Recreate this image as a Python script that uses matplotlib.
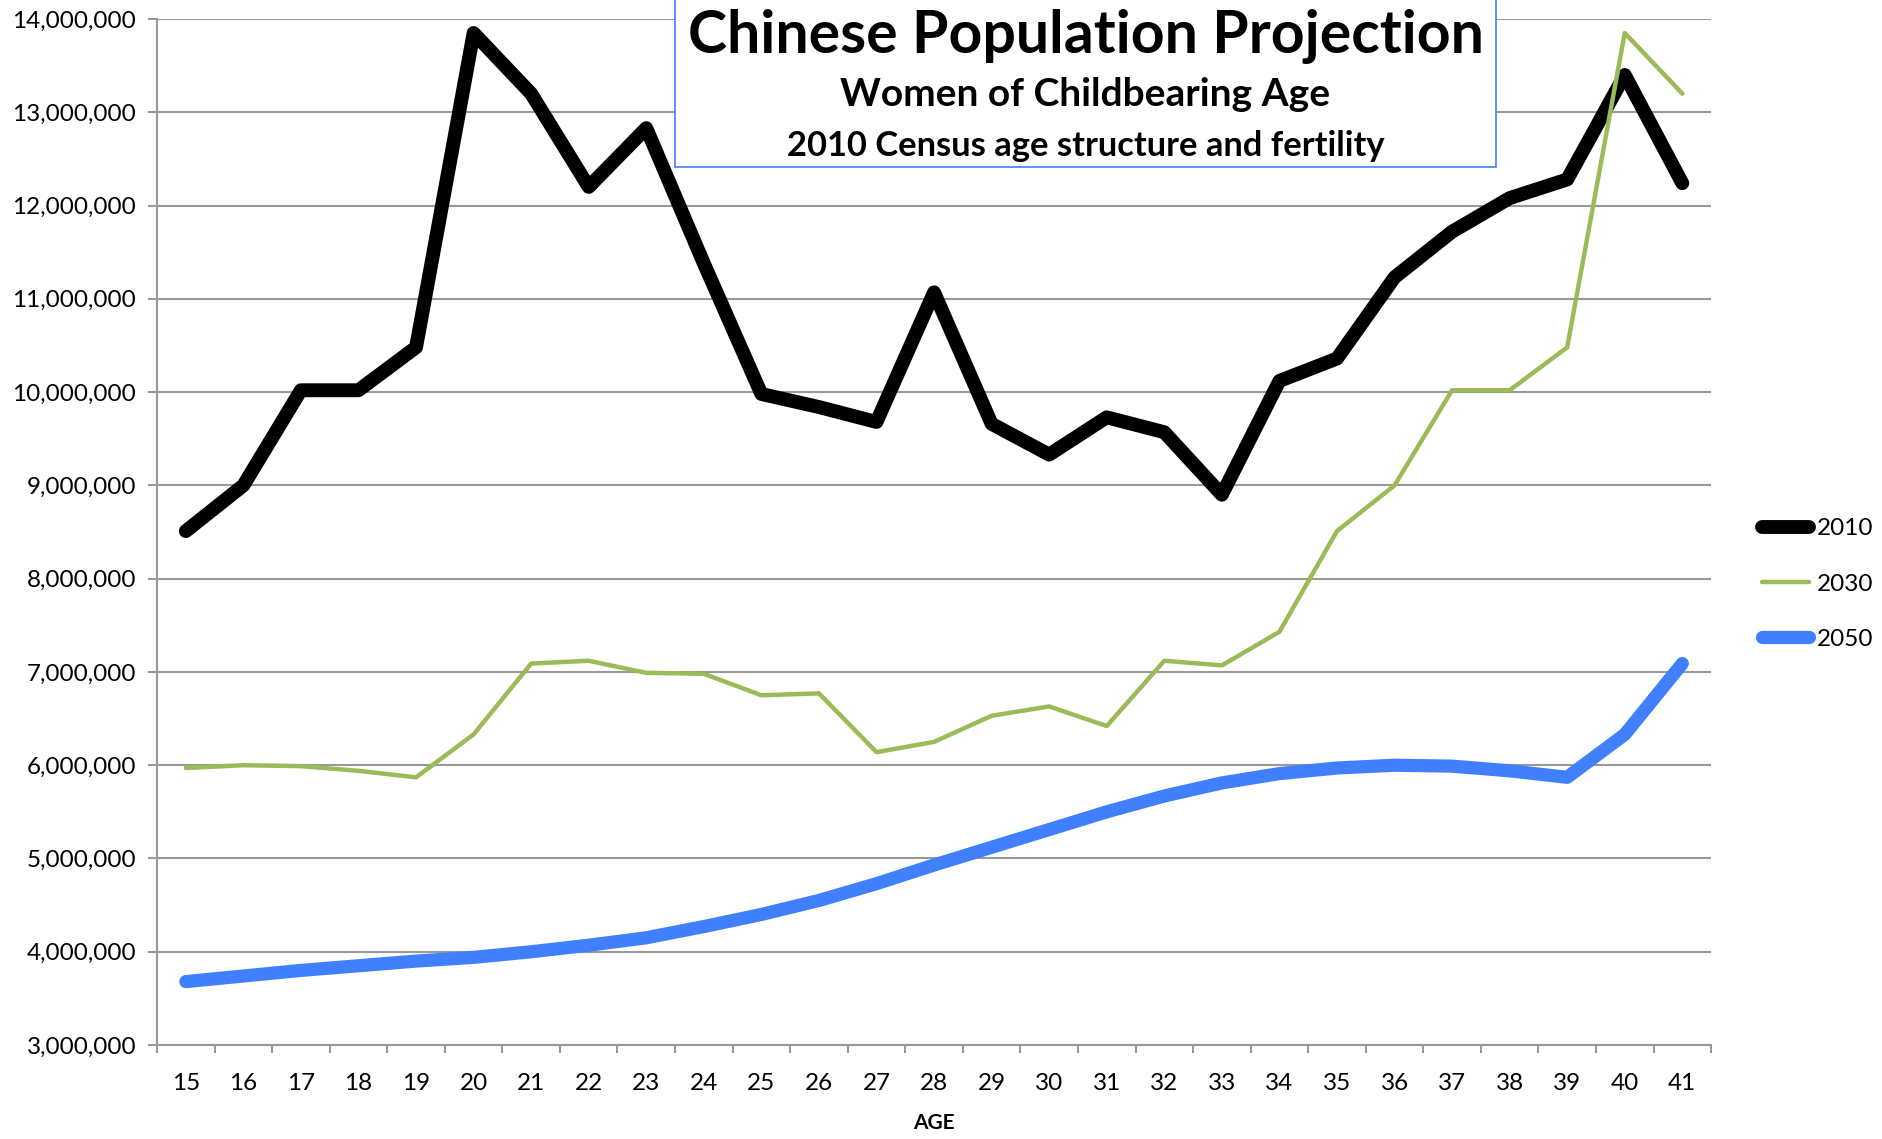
import numpy as np
import matplotlib
matplotlib.use("Agg")
import matplotlib.pyplot as plt
from matplotlib.patches import Rectangle
from matplotlib.ticker import FuncFormatter

plt.rcParams['font.family'] = ['Lato', 'DejaVu Sans']

# Data (millions of women)
ages = list(range(15, 42))
pop_2010 = [8.51, 9.00, 10.02, 10.02, 10.48, 13.85, 13.20, 12.20, 12.83, 11.38,
            9.98, 9.84, 9.68, 11.07, 9.66, 9.33, 9.73, 9.57, 8.90, 10.12,
            10.36, 11.23, 11.72, 12.08, 12.28, 13.40, 12.24]
pop_2030 = [5.97, 6.00, 5.99, 5.94, 5.87, 6.33, 7.09, 7.12, 6.99, 6.98,
            6.75, 6.77, 6.14, 6.25, 6.53, 6.63, 6.42, 7.12, 7.07, 7.43,
            8.51, 9.00, 10.02, 10.02, 10.48, 13.85, 13.20]
pop_2050 = [3.68, 3.74, 3.80, 3.85, 3.90, 3.94, 4.00, 4.07, 4.15, 4.27,
            4.40, 4.55, 4.73, 4.93, 5.12, 5.31, 5.50, 5.67, 5.81, 5.91,
            5.97, 6.00, 5.99, 5.94, 5.87, 6.33, 7.09]
series_labels = ["2010", "2030", "2050"]

grey = "#999999"

fig = plt.figure(figsize=(18.83, 11.39), dpi=100)
ax = fig.add_axes([0.0834, 0.0825, 0.8253, 0.9008])

x = np.arange(len(ages))
ax.plot(x, np.array(pop_2010) * 1e6, color="black", lw=10, label=series_labels[0],
        solid_capstyle="round", solid_joinstyle="round", zorder=3)
ax.plot(x, np.array(pop_2030) * 1e6, color="#9bbb59", lw=3.2, label=series_labels[1],
        solid_capstyle="round", solid_joinstyle="round", zorder=3)
ax.plot(x, np.array(pop_2050) * 1e6, color="#4080ff", lw=9.5, label=series_labels[2],
        solid_capstyle="round", solid_joinstyle="round", zorder=3)

# Axes limits and ticks
ax.set_xlim(-0.5, len(ages) - 0.5)
ax.set_ylim(3e6, 14e6)
ax.set_yticks(np.arange(3e6, 14e6 + 1, 1e6))
ax.yaxis.set_major_formatter(FuncFormatter(lambda v, p: f"{int(v):,}"))
ax.set_xticks(x)
ax.set_xticklabels([str(a) for a in ages])
ax.set_xticks(np.arange(-0.5, len(ages), 1), minor=True)

ax.tick_params(axis="x", which="major", length=0, pad=20, labelsize=17.5)
ax.tick_params(axis="x", which="minor", length=5.5, width=1.5, color=grey, direction="out")
ax.tick_params(axis="y", length=6.5, width=1.5, color=grey, pad=8.5, labelsize=17.5)

ax.grid(axis="y", color=grey, lw=1.5)
ax.set_axisbelow(True)
for side in ["top", "right"]:
    ax.spines[side].set_visible(False)
for side in ["left", "bottom"]:
    ax.spines[side].set_color(grey)
    ax.spines[side].set_linewidth(1.5)

ax.set_xlabel("AGE", fontsize=15, fontweight="bold", labelpad=14)

# Legend on the right
fig.legend(loc="center left", bbox_to_anchor=(1762 / 1883, 1 - 584 / 1139),
           frameon=False, fontsize=17.5, handlelength=1.95, handletextpad=0.3,
           labelspacing=1.4, borderpad=0, borderaxespad=0)

# Title box
box = Rectangle((0.3585, 0.8534), 0.436, 0.16, transform=fig.transFigure,
                facecolor="white", edgecolor="#4a7ef5", lw=1.2, zorder=5)
fig.add_artist(box)
fig.text(0.5765, 1 - 36 / 1139, "Chinese Population Projection", ha="center", va="center",
         fontsize=42.5, fontweight="bold", zorder=6)
fig.text(0.5765, 1 - 95 / 1139, "Women of Childbearing Age", ha="center", va="center",
         fontsize=28, fontweight="bold", zorder=6)
fig.text(0.5765, 1 - 146 / 1139, "2010 Census age structure and fertility", ha="center",
         va="center", fontsize=24.8, fontweight="bold", zorder=6)

fig.savefig("out.png", dpi=100)
